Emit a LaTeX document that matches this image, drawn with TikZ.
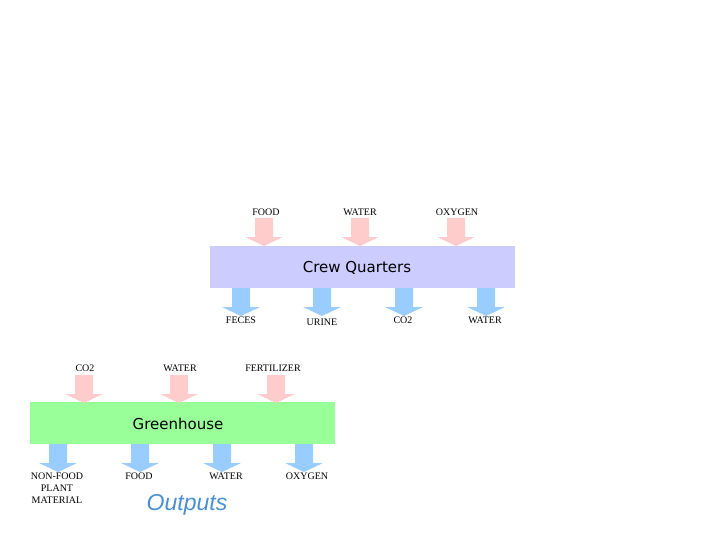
\documentclass[tikz,border=0pt]{standalone}
\usepackage{fontspec}
\setmainfont{Liberation Serif}
\newfontfamily\boxfont{DejaVu Sans}
\newfontfamily\capfont{Liberation Sans}
\definecolor{inpink}{HTML}{FFCCCC}
\definecolor{outblue}{HTML}{99CCFF}
\definecolor{crewfill}{HTML}{CCCCFF}
\definecolor{greenfill}{HTML}{99FF99}
\definecolor{capblue}{HTML}{4A90D0}
\tikzset{
  flow/.pic={\fill (-9,0) -- (9,0) -- (9,19) -- (19,19) -- (0,28) -- (-19,19) -- (-9,19) -- cycle;},
  unitbox/.style={inner sep=0, minimum width=305pt, minimum height=42pt, anchor=north west},
  tag/.style={font=\fontsize{10}{12}\selectfont, inner sep=0, align=center},
  title/.style={font=\boxfont\fontsize{15}{18}\selectfont, inner sep=0}
}

\begin{document}
\begin{tikzpicture}[x=1pt,y=-1pt]
  \useasboundingbox (0,0) rectangle (720,540);
  % crew quarters -- three in, four out
  \begin{scope}
    \node[unitbox, fill=crewfill] (crew) at (210,246) {};
    \node[title] (crewname) at (357,268) {Crew Quarters};
    \foreach \x in {264,360,456} \pic[inpink] at (\x,218) {flow};
    \foreach \x in {241,322,404,486} \pic[outblue] at (\x,288) {flow};
    \node[tag] (crewfood) at (266,212) {FOOD};
    \node[tag] (crewwater) at (360,212) {WATER};
    \node[tag] (crewoxy) at (457,212) {OXYGEN};
    \node[tag] (feces) at (241,320) {FECES};
    \node[tag] (urine) at (322,322) {URINE};
    \node[tag] (crewco) at (403,320) {CO2};
    \node[tag] (crewout) at (485,320) {WATER};
  \end{scope}
  % greenhouse -- three in, four out
  \begin{scope}
    \node[unitbox, fill=greenfill] (green) at (30,402) {};
    \node[title] (greenname) at (178,424) {Greenhouse};
    \foreach \x in {84,179,276} \pic[inpink] at (\x,375) {flow};
    \foreach \x in {58,140,222,304} \pic[outblue] at (\x,444) {flow};
    \node[tag] (greenco) at (85,368) {CO2};
    \node[tag] (greenwater) at (180,368) {WATER};
    \node[tag] (fert) at (273,368) {FERTILIZER};
    \node[tag, anchor=north] (nonfood) at (57,473) {NON-FOOD\\PLANT\\MATERIAL};
    \node[tag] (greenfood) at (139,476) {FOOD};
    \node[tag] (greenout) at (226,476) {WATER};
    \node[tag] (greenoxy) at (307,476) {OXYGEN};
  \end{scope}
  \node[font=\capfont\itshape\fontsize{23}{26}\selectfont, text=capblue, inner sep=0] (outputs) at (187,505) {Outputs};
\end{tikzpicture}
\end{document}
